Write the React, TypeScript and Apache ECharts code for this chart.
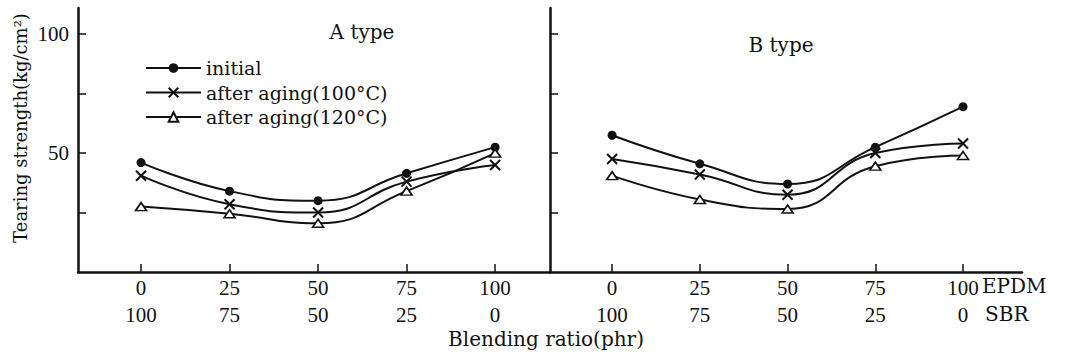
import React, { useEffect, useRef } from "react";
import * as echarts from "echarts";

// Blending ratio categories
const EPDM = [0, 25, 50, 75, 100];
const SBR = [100, 75, 50, 25, 0];

// Tearing strength (kg/cm²) — A type
const A_INITIAL = [46, 34, 30, 41.5, 52.5];
const A_AGED_100 = [40.5, 28.5, 25, 38, 45];
const A_AGED_120 = [27.5, 24.5, 20.5, 34, 50];

// Tearing strength (kg/cm²) — B type
const B_INITIAL = [57.5, 45.5, 37, 52.5, 69.5];
const B_AGED_100 = [47.5, 41, 32.5, 50, 54];
const B_AGED_120 = [40.5, 30.5, 26.5, 44.5, 49];

const Y_TICKS = [25, 50, 75, 100];
const Y_LABELS = [50, 100];

const NAMES = ["initial", "after aging(100°C)", "after aging(120°C)"];

const INK = "#111";
const SERIF = "DejaVu Serif";
const NUM = "Liberation Serif";

const symbolStyles = [
  { symbol: "circle", symbolSize: 9, itemStyle: { color: INK, borderWidth: 0 } },
  {
    symbol: "path://M0,0L10,10M10,0L0,10",
    symbolSize: 10,
    itemStyle: { color: "rgba(0,0,0,0)", borderColor: INK, borderWidth: 2 },
  },
  {
    symbol: "triangle",
    symbolSize: [11, 8],
    itemStyle: { color: "#fff", borderColor: INK, borderWidth: 1.6 },
  },
];

function makeSeries(name: string, values: number[], idx: number, axis: number) {
  const s = symbolStyles[idx];
  return {
    type: "line",
    name,
    xAxisIndex: axis,
    yAxisIndex: axis,
    data: EPDM.map((x, i) => [x, values[i]]),
    smooth: 0.5,
    smoothMonotone: "none",
    symbol: s.symbol,
    symbolSize: s.symbolSize,
    showSymbol: true,
    itemStyle: s.itemStyle,
    lineStyle: { color: INK, width: 2 },
    emphasis: { disabled: true },
  };
}

function xAxis(grid: number, min: number, max: number) {
  return {
    type: "value",
    gridIndex: grid,
    min,
    max,
    axisLine: { show: true, onZero: false, lineStyle: { color: INK, width: 2.5 } },
    axisTick: {
      show: true,
      inside: true,
      length: 8,
      customValues: EPDM,
      lineStyle: { color: INK, width: 1.5 },
    },
    splitLine: { show: false },
    axisLabel: {
      customValues: EPDM,
      margin: 2,
      fontFamily: NUM,
      fontSize: 21,
      color: INK,
      lineHeight: 27,
      formatter: (v: number) => {
        const i = EPDM.indexOf(v);
        return i < 0 ? "" : `${EPDM[i]}\n${SBR[i]}`;
      },
    },
  };
}

function yAxis(grid: number, labels: boolean) {
  return {
    type: "value",
    gridIndex: grid,
    min: 0,
    max: 111,
    axisLine: { show: true, onZero: false, lineStyle: { color: INK, width: 2.5 } },
    axisTick: {
      show: true,
      inside: true,
      length: 8,
      customValues: Y_TICKS,
      lineStyle: { color: INK, width: 1.5 },
    },
    splitLine: { show: false },
    axisLabel: {
      show: labels,
      customValues: Y_LABELS,
      margin: 9,
      fontFamily: NUM,
      fontSize: 21,
      color: INK,
    },
  };
}

export default function App() {
  const ref = useRef<HTMLDivElement>(null);

  useEffect(() => {
    if (!ref.current) return;
    const chart = echarts.init(ref.current, null, { renderer: "svg" });
    chart.setOption({
      animation: false,
      backgroundColor: "#fff",
      grid: [
        { left: 78, top: 8, width: 472, height: 264 },
        { left: 550, top: 8, width: 472, height: 264 },
      ],
      xAxis: [xAxis(0, -17.8, 115.5), xAxis(1, -17.7, 116.8)],
      yAxis: [yAxis(0, true), yAxis(1, false)],
      legend: {
        data: NAMES,
        orient: "vertical",
        left: 140,
        top: 52,
        itemWidth: 55,
        itemHeight: 12,
        itemGap: 2.5,
        selectedMode: false,
        textStyle: { fontFamily: SERIF, fontSize: 19, color: INK, lineHeight: 22 },
      },
      series: [
        makeSeries(NAMES[0], A_INITIAL, 0, 0),
        makeSeries(NAMES[1], A_AGED_100, 1, 0),
        makeSeries(NAMES[2], A_AGED_120, 2, 0),
        makeSeries(NAMES[0], B_INITIAL, 0, 1),
        makeSeries(NAMES[1], B_AGED_100, 1, 1),
        makeSeries(NAMES[2], B_AGED_120, 2, 1),
      ],
      graphic: [
        {
          type: "text",
          x: 20,
          y: 128,
          rotation: Math.PI / 2,
          style: {
            text: "Tearing strength(kg/cm²)",
            fontFamily: SERIF,
            fontSize: 18,
            fill: INK,
            align: "center",
            verticalAlign: "middle",
          },
        },
        {
          type: "text",
          x: 362,
          y: 32,
          style: {
            text: "A type",
            fontFamily: SERIF,
            fontSize: 20,
            fill: INK,
            align: "center",
            verticalAlign: "middle",
          },
        },
        {
          type: "text",
          x: 781,
          y: 45,
          style: {
            text: "B type",
            fontFamily: SERIF,
            fontSize: 20,
            fill: INK,
            align: "center",
            verticalAlign: "middle",
          },
        },
        {
          type: "text",
          x: 982,
          y: 286,
          style: {
            text: "EPDM",
            fontFamily: SERIF,
            fontSize: 20,
            fill: INK,
            align: "left",
            verticalAlign: "middle",
          },
        },
        {
          type: "text",
          x: 985,
          y: 314,
          style: {
            text: "SBR",
            fontFamily: SERIF,
            fontSize: 20,
            fill: INK,
            align: "left",
            verticalAlign: "middle",
          },
        },
        {
          type: "text",
          x: 546,
          y: 339,
          style: {
            text: "Blending ratio(phr)",
            fontFamily: SERIF,
            fontSize: 20,
            fill: INK,
            align: "center",
            verticalAlign: "middle",
          },
        },
      ],
    });
    return () => chart.dispose();
  }, []);

  return (
    <div
      ref={ref}
      style={{ position: "fixed", left: 0, top: 0, width: 1065, height: 361, background: "#fff" }}
    />
  );
}
